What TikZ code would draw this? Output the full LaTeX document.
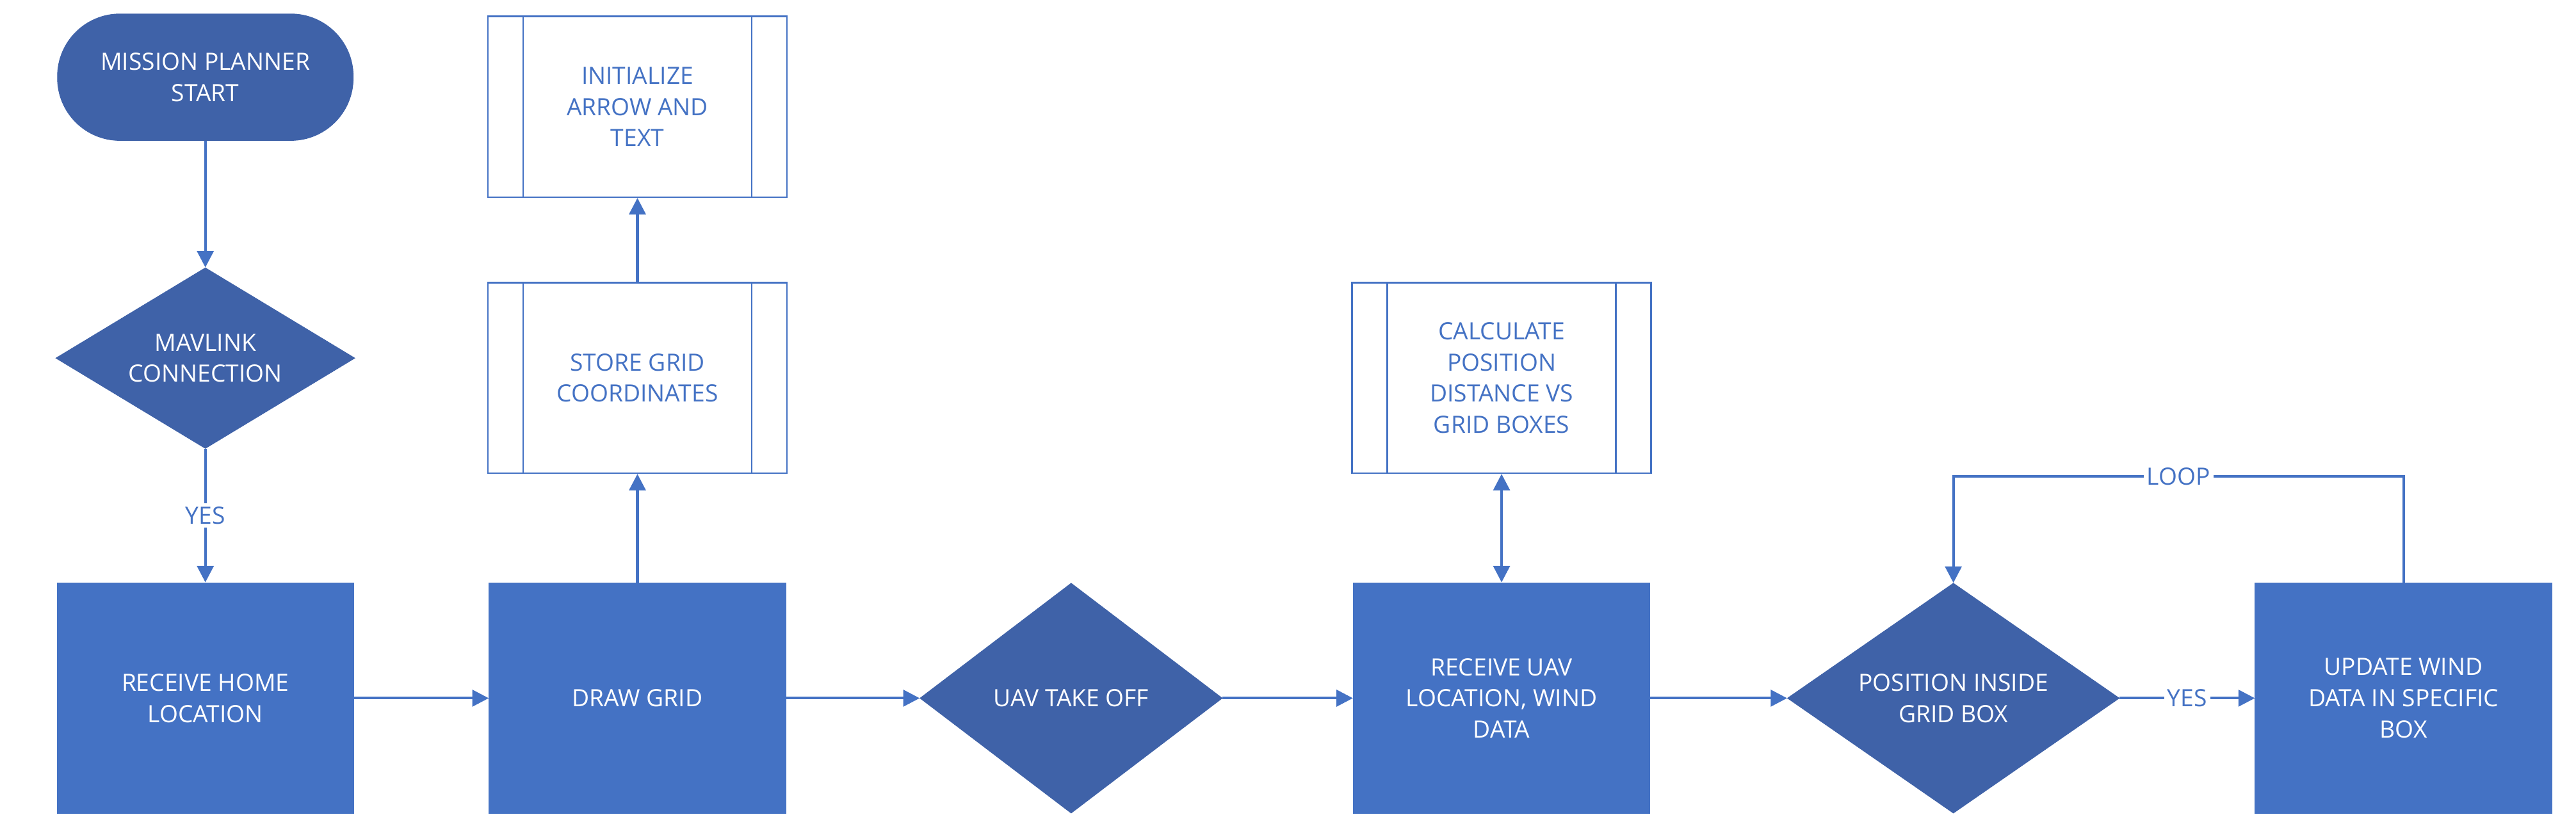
\documentclass[tikz,border=0pt]{standalone}
\usepackage{fontspec}
\setmainfont{Open Sans}
\usetikzlibrary{shapes.geometric,arrows.meta}
\definecolor{boxc}{HTML}{4472C4}
\definecolor{dia}{HTML}{3F62A8}
\begin{document}
\begin{tikzpicture}[x=1pt,y=1pt,
  font=\fontsize{14.5}{19}\selectfont,
  box/.style={draw=boxc,fill=boxc,line width=1pt,text=white,minimum width=180,minimum height=140,align=center,inner sep=0},
  dm/.style={diamond,draw=dia,fill=dia,text=white,minimum width=184,minimum height=140,align=center,inner sep=0,aspect=1.3},
  pp/.style={draw=boxc,fill=white,line width=1pt,text=boxc,minimum width=182,align=center,inner sep=0},
  term/.style={rectangle,rounded corners=38,draw=dia,fill=dia,text=white,minimum width=180,minimum height=77,align=center},
  ar/.style={draw=boxc,line width=1.6pt,-{Triangle[length=10pt,width=10pt]}},
  lbl/.style={text=boxc,fill=white,inner sep=2pt}]
\useasboundingbox (0,0) rectangle (1568,507);
\node[term] (start) at (125,460) {MISSION PLANNER\\START};
\node[diamond,draw=dia,fill=dia,text=white,minimum width=182,minimum height=110,align=center,inner sep=0,aspect=1.65] (mav) at (125,289) {MAVLINK\\CONNECTION};
\node[box] (home) at (125,82) {RECEIVE HOME\\LOCATION};
\node[box] (grid) at (388,82) {DRAW GRID};
\node[pp,minimum height=116] (store) at (388,277) {STORE GRID\\COORDINATES};
\node[pp,minimum height=110] (init) at (388,442) {INITIALIZE\\ARROW AND\\TEXT};
\node[dm] (take) at (652,82) {UAV TAKE OFF};
\node[box] (uav) at (914,82) {RECEIVE UAV\\LOCATION, WIND\\DATA};
\node[pp,minimum height=116] (calc) at (914,277) {CALCULATE\\POSITION\\DISTANCE VS\\GRID BOXES};
\node[dm,minimum width=202] (pos) at (1189,82) {POSITION INSIDE\\GRID BOX};
\node[box] (upd) at (1463,82) {UPDATE WIND\\DATA IN SPECIFIC\\BOX};
\foreach \n in {store,init,calc}{
  \draw[boxc,line width=1pt] ([xshift=22]\n.north west) -- ([xshift=22]\n.south west);
  \draw[boxc,line width=1pt] ([xshift=-22]\n.north east) -- ([xshift=-22]\n.south east);
}
\draw[ar] (start) -- (mav);
\draw[ar] (mav) -- node[lbl]{YES} (home);
\draw[ar] (home) -- (grid);
\draw[ar] (grid) -- (store);
\draw[ar] (store) -- (init);
\draw[ar] (grid) -- (take);
\draw[ar] (take) -- (uav);
\draw[ar,{Triangle[length=10pt,width=10pt]}-{Triangle[length=10pt,width=10pt]}] (uav) -- (calc);
\draw[ar] (uav) -- (pos);
\draw[ar] (pos) -- node[lbl]{YES} (upd);
\coordinate (l1) at (1463,217);
\coordinate (l2) at (1189,217);
\draw[ar] (upd.north) -- (l1) -- node[lbl,pos=0.5]{LOOP} (l2) -- (pos.north);
\end{tikzpicture}
\end{document}
